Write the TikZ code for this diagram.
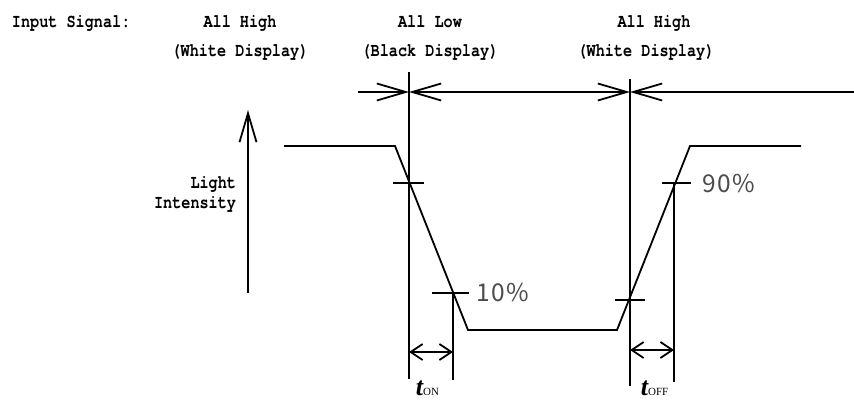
\documentclass[tikz,border=0pt]{standalone}
\usepackage{fontspec}
\usetikzlibrary{arrows.meta}
\newfontfamily\monob[FakeStretch=0.8]{TeX Gyre Cursor}
\newfontfamily\pctfont[LetterSpace=5]{Noto Sans CJK JP}
\newfontfamily\tserif{Liberation Serif}
\begin{document}
\begin{tikzpicture}[x=1pt,y=-1pt, line width=1.8pt,
  lbl/.style={font=\monob\bfseries\fontsize{19}{19}\selectfont, inner sep=0pt, anchor=base},
  pct/.style={font=\pctfont\fontsize{24.5}{25}\selectfont, text=black!70, inner sep=0pt, anchor=west},
  tlbl/.style={inner sep=0pt, anchor=base west, text depth=0pt},
  bigtip/.tip={Straight Barb[length=29pt,width=17pt]},
  smalltip/.tip={Straight Barb[length=12pt,width=16pt]},
]
\useasboundingbox (0,0) rectangle (854,401);
% header texts
\node[lbl, anchor=base west] (insig) at (11,28) {Input Signal:};
\node[lbl] (h1a) at (240,28) {All High};
\node[lbl] (h1b) at (240,57) {(White Display)};
\node[lbl] (l1a) at (430,28) {All Low};
\node[lbl] (l1b) at (430,57) {(Black Display)};
\node[lbl] (h2a) at (654,28) {All High};
\node[lbl] (h2b) at (646,57) {(White Display)};
\node[lbl, anchor=base east] (light) at (237,188) {Light};
\node[lbl, anchor=base east] (inten) at (237,208) {Intensity};
% key points
\coordinate (axb) at (248,293);
\coordinate (axt) at (248,110);
\coordinate (hl) at (358,92);
\coordinate (ha) at (409,92);
\coordinate (hb) at (630,92);
\coordinate (hr) at (854,92);
% light intensity axis
\draw[-{bigtip}] (axb) -- (axt);
% input signal line
\draw[-{bigtip}] (hl) -- (ha);
\draw[{bigtip}-{bigtip}] (ha) -- (hb);
\draw[{bigtip}-] (hb) -- (hr);
% verticals
\draw (409,72) -- (409,379);
\draw (630,79) -- (630,386);
\draw (453,293) -- (453,380);
\draw (674,183) -- (674,382);
% waveform
\draw[line join=miter] (284,146) -- (395,146) -- (468,330) -- (617,330) -- (690,146) -- (801,146);
% level ticks
\draw (393,183) -- (424,183);
\draw (432,293) -- (469,293);
\draw (615,300) -- (645,300);
\draw (662,183) -- (691,183);
% time arrows
\draw[{smalltip}-{smalltip}] (409,352) -- (453,352);
\draw[{smalltip}-{smalltip}] (630,350) -- (674,350);
% labels
\node[pct] (p10) at (476,293) {10\%};
\node[pct] (p90) at (702,184) {90\%};
\node[tlbl] (ton) at (415,395) {\tserif\bfseries\itshape\fontsize{26}{26}\selectfont t\upshape\mdseries\fontsize{11}{11}\selectfont ON};
\node[tlbl] (toff) at (640,395) {\tserif\bfseries\itshape\fontsize{26}{26}\selectfont t\upshape\mdseries\fontsize{11}{11}\selectfont OFF};
\end{tikzpicture}
\end{document}
